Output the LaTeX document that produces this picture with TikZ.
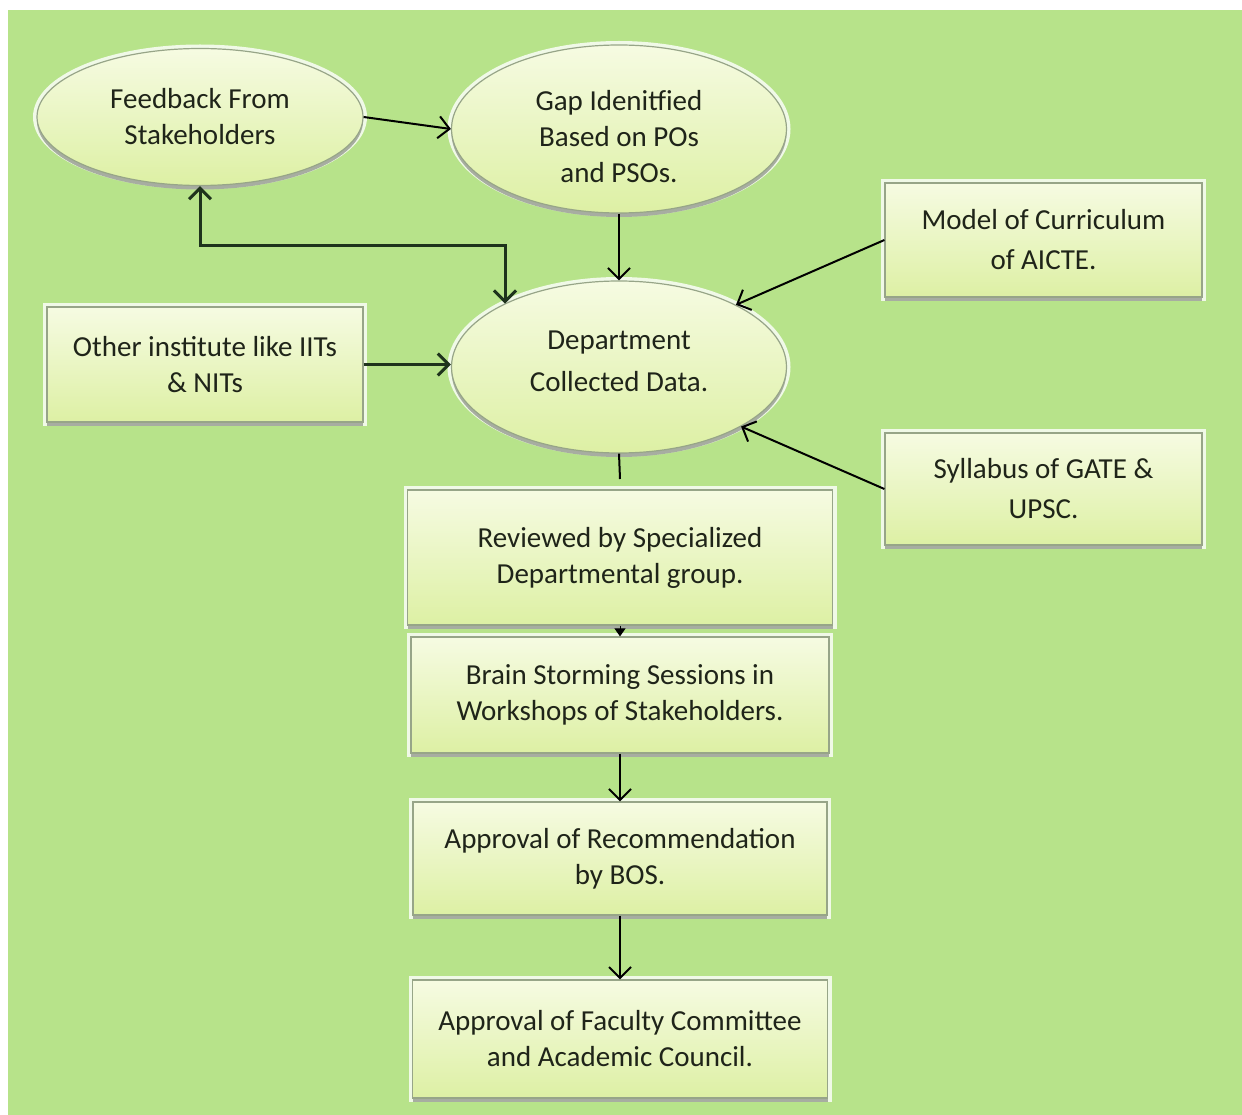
\documentclass[tikz,border=0pt]{standalone}
\usepackage{fontspec}
\setmainfont{Carlito}
\usetikzlibrary{shapes.geometric,arrows.meta,shadows}
\definecolor{bg}{HTML}{B7E38A}
\definecolor{ntop}{HTML}{F6FBE2}
\definecolor{nbot}{HTML}{DDF0A4}
\definecolor{nborder}{HTML}{97A588}
\definecolor{txt}{HTML}{1F2419}
\definecolor{darkline}{HTML}{1E331C}
\begin{document}
\begin{tikzpicture}[x=1pt,y=-1pt,
  base/.style={draw=nborder, line width=1.2pt, top color=ntop, bottom color=nbot,
    text=txt, align=center, inner sep=0pt, font=\fontsize{29}{36}\selectfont,
    preaction={draw=white, line width=8pt, opacity=0.8},
    drop shadow={shadow xshift=0pt, shadow yshift=-4pt, fill=black, opacity=0.3}},
  oval/.style={base, ellipse},
  box/.style={base, rectangle},
  conn/.style={draw=black, line width=2pt, -{Straight Barb[length=11pt,width=22pt]}},
  thickconn/.style={draw=darkline, line width=3pt},
  barb/.tip={Straight Barb[length=11pt,width=22pt]},
  plainline/.style={draw=black, line width=2pt},
  tinyarrow/.style={draw=black, line width=1pt, -{Triangle[length=8pt,width=11pt]}}
]
\useasboundingbox (0,0) rectangle (1242,1115);
\fill[white] (0,0) rectangle (1242,1115);
\fill[bg] (8,10) rectangle (1242,1115);

% nodes
\node[oval, minimum width=326pt, minimum height=137pt] (fb) at (200,117) {Feedback From\\Stakeholders};
\node[oval, minimum width=335pt, minimum height=168pt] (gap) at (619,129) {\rule{0pt}{36pt}Gap Idenitfied\\Based on POs\\and PSOs.};
\node[oval, minimum width=335pt, minimum height=172pt] (dept) at (619,367) {Department\\[6pt]Collected Data.\rule[-12pt]{0pt}{12pt}};
\node[box, minimum width=317pt, minimum height=114pt] (model) at (1043.5,240) {Model of Curriculum\\[4pt]of AICTE.};
\node[box, minimum width=317pt, minimum height=112pt] (syl) at (1043.5,489) {Syllabus of GATE \&\\[4pt]UPSC.};
\node[box, minimum width=316pt, minimum height=115pt] (oth) at (205,364.5) {Other institute like IITs\\\& NITs};
\node[box, minimum width=425pt, minimum height=135pt] (rev) at (620,557.5) {Reviewed by Specialized\\Departmental group.};
\node[box, minimum width=418pt, minimum height=116pt] (brain) at (620,695) {Brain Storming Sessions in\\Workshops of Stakeholders.};
\node[box, minimum width=414pt, minimum height=113pt] (bos) at (620,858.5) {Approval of Recommendation\\by BOS.};
\node[box, minimum width=415pt, minimum height=118pt] (fac) at (620,1039) {Approval of Faculty Committee\\and Academic Council.};

\coordinate (loopR) at (505,246);
\coordinate (revtop) at (620,479);

% connectors
\draw[conn] (fb.east) -- (gap.west);
\draw[conn] (gap.south) -- (dept.north);
\draw[thickconn, {barb}-{barb}] (fb.south) |- (loopR) -- (loopR |- dept.151);
\draw[conn] (model.west) -- (dept.28);
\draw[conn, draw=darkline, line width=3pt] (oth.east) -- (oth.east -| dept.west);
\draw[conn] (syl.west) -- (dept.-26);
\draw[plainline] (dept.south) -- (revtop);
\draw[tinyarrow] (rev.south) -- (brain.north);
\draw[conn] (brain.south) -- (bos.north);
\draw[conn] (bos.south) -- (fac.north);
\end{tikzpicture}
\end{document}
